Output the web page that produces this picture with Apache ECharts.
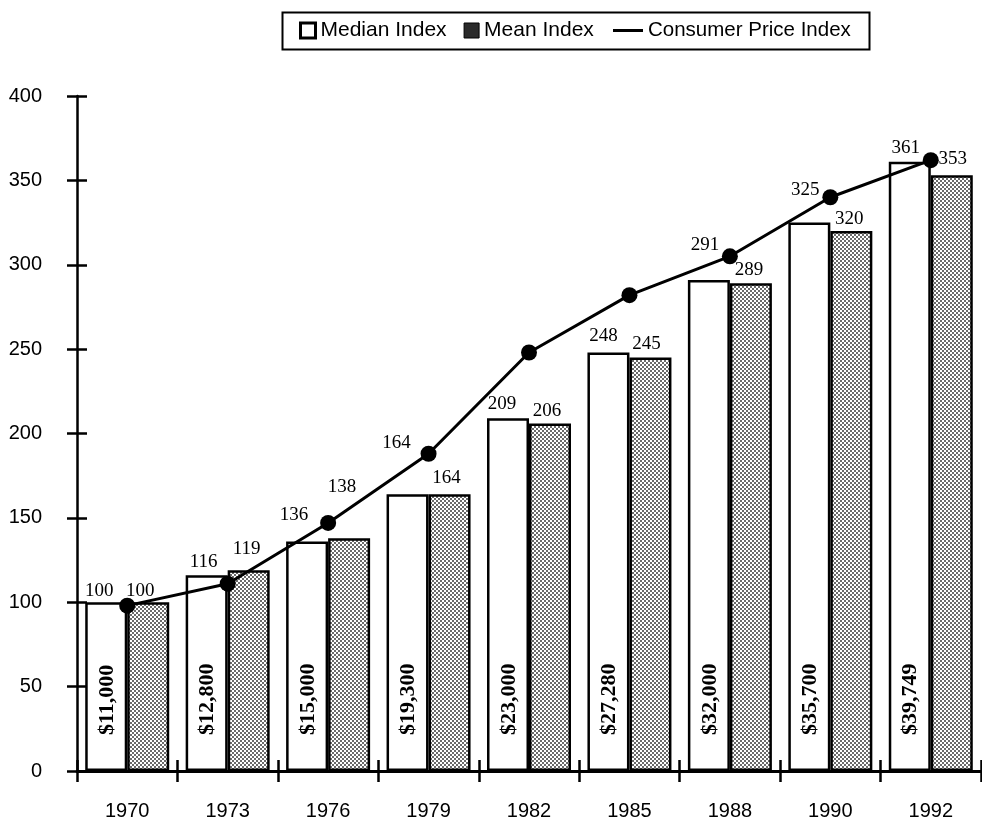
<!DOCTYPE html>
<html>
<head>
<meta charset="utf-8">
<script src="https://cdn.jsdelivr.net/npm/echarts@6/dist/echarts.min.js"></script>
<style>html,body{margin:0;padding:0;background:#fff;}#c{width:982px;height:822px;}</style>
</head>
<body>
<div id="c"></div>
<script>
// ---- data ----
const categories = ['1970','1973','1976','1979','1982','1985','1988','1990','1992'];
const medianIndex = [100,116,136,164,209,248,291,325,361];
const meanIndex   = [100,119,138,164,206,245,289,320,353];
const cpiIndex    = [98,111,147,188,248,282,305,340,362];
const medianIncome = ['$11,000','$12,800','$15,000','$19,300','$23,000','$27,280','$32,000','$35,700','$39,749'];
const yTicks = { min: 0, max: 400, interval: 50 };

// ---- label nudges (style only) ----
const medianNudge = [[-7,3],[-3,1],[-13,-12],[-11,-37],[-6,0],[-5,-2],[-4,-20],[-4,-18],[-4,1]];
const meanNudge   = [[-8,3],[-2,-7],[-7,-37],[-3,-2],[-3,2],[-4,1],[-2,1],[-2,3],[1,-2]];

const BAR_W = 42;
const serif = '"Liberation Serif", "Times New Roman", serif';
const sans = '"Liberation Sans", Arial, Helvetica, sans-serif';

// stipple pattern for mean bars
const pc = document.createElement('canvas');
pc.width = 4; pc.height = 4;
const pctx = pc.getContext('2d');
pctx.fillStyle = '#ffffff'; pctx.fillRect(0,0,4,4);
pctx.fillStyle = '#6a6a6a';
pctx.fillRect(0,0,2,2); pctx.fillRect(2,2,2,2);

const chart = echarts.init(document.getElementById('c'));

const topLabel = { show: true, position: 'top', distance: 5, color: '#000', fontFamily: serif, fontSize: 19 };

chart.setOption({
  animation: false,
  backgroundColor: '#fff',
  grid: { left: 77, right: 1, top: 96, bottom: 51, containLabel: false, outerBoundsMode: 'none' },
  graphic: [{
    type: 'rect', left: 280, top: 10, shape: { width: 587, height: 37 },
    style: { fill: 'none', stroke: '#000', lineWidth: 2 }, z: 100
  }],
  legend: [{
    data: [
      { name: 'Median Index', icon: 'rect', itemStyle: { color: '#fff', borderColor: '#000', borderWidth: 3 } },
      { name: 'Mean Index', icon: 'rect', itemStyle: { color: '#2a2a2a', borderColor: '#000', borderWidth: 1 } }
    ],
    left: 299, top: 20, padding: 0, itemWidth: 15, itemHeight: 15, itemGap: 17,
    textStyle: { fontFamily: sans, fontSize: 21, color: '#000' }
  }, {
    data: [{ name: 'Consumer Price Index', icon: 'rect', itemStyle: { color: '#000' } }],
    left: 613, top: 20, padding: 0, itemWidth: 30, itemHeight: 3,
    textStyle: { fontFamily: sans, fontSize: 20.5, color: '#000' }
  }],
  xAxis: [{
    type: 'category', data: categories, position: 'bottom',
    axisLine: { lineStyle: { color: '#000', width: 3 } },
    axisTick: { show: true, inside: false, length: 11, lineStyle: { color: '#000', width: 2.5 } },
    axisLabel: { color: '#000', fontFamily: sans, fontSize: 20, margin: 30 },
    splitLine: { show: false }
  }, {
    type: 'category', data: categories, position: 'bottom',
    axisLine: { show: false },
    axisTick: { show: true, inside: true, length: 11, lineStyle: { color: '#000', width: 2.5 } },
    axisLabel: { show: false },
    splitLine: { show: false }
  }],
  yAxis: [{
    type: 'value', min: yTicks.min, max: yTicks.max, interval: yTicks.interval, position: 'left',
    axisLine: { show: true, lineStyle: { color: '#000', width: 2.5 } },
    axisTick: { show: true, inside: false, length: 10, lineStyle: { color: '#000', width: 2.5 } },
    axisLabel: { color: '#000', fontFamily: sans, fontSize: 20, margin: 35 },
    splitLine: { show: false }
  }, {
    type: 'value', min: yTicks.min, max: yTicks.max, interval: yTicks.interval, position: 'left',
    axisLine: { show: false },
    axisTick: { show: true, inside: true, length: 10, lineStyle: { color: '#000', width: 2.5 } },
    axisLabel: { show: false },
    splitLine: { show: false }
  }],
  series: [{
    name: 'Median Index', type: 'bar', barWidth: BAR_W, barGap: '0%',
    itemStyle: { color: '#fff', borderColor: '#000', borderWidth: 2.5 },
    label: topLabel,
    data: medianIndex.map((v, i) => ({ value: v, label: { offset: medianNudge[i] } })),
    z: 2
  }, {
    name: 'Mean Index', type: 'bar', barWidth: BAR_W, barGap: '0%',
    itemStyle: { color: { image: pc, repeat: 'repeat' }, borderColor: '#000', borderWidth: 2.5 },
    label: topLabel,
    data: meanIndex.map((v, i) => ({ value: v, label: { offset: meanNudge[i] } })),
    z: 2
  }, {
    name: 'Consumer Price Index', type: 'line', data: cpiIndex,
    symbol: 'circle', symbolSize: 16,
    itemStyle: { color: '#000' },
    lineStyle: { color: '#000', width: 3 },
    z: 5
  }, {
    name: 'incomes', type: 'custom', silent: true, z: 4,
    data: categories.map((c, i) => [i, 0]),
    renderItem: function (params, api) {
      const p = api.coord([api.value(0), 0]);
      return {
        type: 'text',
        x: p[0] - BAR_W / 2 + 1,
        y: p[1] - 36,
        rotation: Math.PI / 2,
        style: {
          text: medianIncome[params.dataIndex],
          fill: '#000',
          font: 'bold 22px ' + serif,
          align: 'left',
          verticalAlign: 'middle'
        }
      };
    }
  }]
});
</script>
</body>
</html>
